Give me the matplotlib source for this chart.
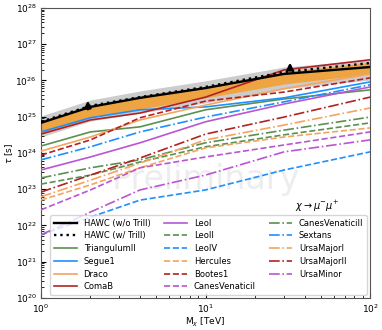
import matplotlib
matplotlib.use('Agg')
import matplotlib.pyplot as plt
import numpy as np

# DM mass grid [TeV]
mass = [1, 2, 4, 10, 30, 100]

# log10(tau [s])
hawc_wo = [24.83, 25.27, 25.52, 25.79, 26.18, 26.37]
hawc_w = [24.86, 25.30, 25.54, 25.82, 26.23, 26.48]
band68_lo = [24.52, 24.97, 25.21, 25.52, 25.90, 26.18]
band68_hi = [24.83, 25.27, 25.52, 25.79, 26.23, 26.50]
band95_lo = [24.44, 24.88, 25.10, 25.38, 25.77, 26.01]
band95_hi = [25.02, 25.46, 25.71, 25.99, 26.37, 26.57]

dwarfs = ['TriangulumII', 'Segue1', 'Draco', 'ComaB', 'LeoI',
          'LeoII', 'LeoIV', 'Hercules', 'Bootes1', 'CanesVenaticiI',
          'CanesVenaticiII', 'Sextans', 'UrsaMajorI', 'UrsaMajorII', 'UrsaMinor']

dwarf_tau = {
    'TriangulumII': [24.19, 24.58, 24.72, 25.19, 25.49, 25.74],
    'Segue1': [24.58, 24.97, 25.19, 25.27, 25.52, 25.96],
    'Draco': [24.05, 24.44, 24.91, 25.32, 25.77, 26.18],
    'ComaB': [24.52, 24.91, 25.10, 25.54, 26.29, 26.57],
    'LeoI': [23.53, 23.89, 24.28, 24.86, 25.35, 25.82],
    'LeoII': [23.14, 23.39, 23.75, 24.17, 24.50, 24.83],
    'LeoIV': [21.74, 22.23, 22.70, 22.98, 23.53, 24.03],
    'Hercules': [22.70, 23.12, 23.59, 24.14, 24.44, 24.69],
    'Bootes1': [23.94, 24.36, 24.97, 25.43, 25.68, 26.07],
    'CanesVenaticiI': [22.43, 22.98, 23.59, 23.89, 24.22, 24.58],
    'CanesVenaticiII': [23.31, 23.59, 23.81, 24.28, 24.63, 24.99],
    'Sextans': [23.81, 24.17, 24.58, 24.99, 25.41, 25.88],
    'UrsaMajorI': [22.79, 23.25, 23.72, 24.36, 24.77, 25.24],
    'UrsaMajorII': [22.92, 23.39, 23.86, 24.52, 24.99, 25.54],
    'UrsaMinor': [21.74, 22.37, 22.98, 23.39, 24.03, 24.36],
}

# arrows: (mass, log tau bottom, log tau top)
arrows = [(1.93, 25.13, 25.52), (32.6, 26.21, 26.57)]

colors = ['#5b9150', '#1e90ff', '#f4a460', '#b22222', '#ba55d3']
styles = ['-', '--', '-.']

fig = plt.figure(figsize=(3.82, 3.30), dpi=100)
ax = fig.add_axes([0.107, 0.097, 0.862, 0.879])

m = np.array(mass)
ax.fill_between(m, 10 ** np.array(band95_lo), 10 ** np.array(band95_hi),
                color='#cccccc', lw=0, zorder=1)
ax.fill_between(m, 10 ** np.array(band68_lo), 10 ** np.array(band68_hi),
                color='#eea440', lw=0, zorder=2)
ax.plot(m, 10 ** np.array(hawc_wo), color='k', lw=1.7, ls='-', label='HAWC (w/o Trill)', zorder=5)
ax.plot(m, 10 ** np.array(hawc_w), color='k', lw=1.7, ls=':', label='HAWC (w/ Trill)', zorder=5)

for i, name in enumerate(dwarfs):
    ax.plot(m, 10 ** np.array(dwarf_tau[name]), color=colors[i % 5],
            ls=styles[i // 5], lw=1.2, label=name, zorder=4)

for mx, lo, hi in arrows:
    ax.annotate('', xy=(mx, 10 ** hi), xytext=(mx, 10 ** lo),
                arrowprops=dict(arrowstyle='-|>', color='k', lw=1.8, mutation_scale=9),
                zorder=6)

ax.set_xscale('log')
ax.set_yscale('log')
ax.set_xlim(1, 100)
ax.set_ylim(1e20, 1e28)
ax.set_xlabel(r'M$_\chi$ [TeV]', fontsize=6.5, labelpad=1)
ax.set_ylabel(r'$\tau$ [s]', fontsize=6.5, labelpad=0)
ax.tick_params(which='both', direction='in', labelsize=6.5, pad=3)
for s in ax.spines.values():
    s.set_color('#555555')

ax.text(0.5, 0.41, 'Preliminary', transform=ax.transAxes, fontsize=24,
        color='#ededed', ha='center', va='center', zorder=0)
ax.text(0.84, 0.315, r'$\chi \rightarrow \mu^{-}\mu^{+}$', transform=ax.transAxes,
        fontsize=7, ha='center', va='center')

ax.legend(loc='lower right', ncol=3, fontsize=6, handlelength=2.8,
          labelspacing=0.45, columnspacing=1.6, borderaxespad=0.4)

fig.savefig('out.png', dpi=100)
